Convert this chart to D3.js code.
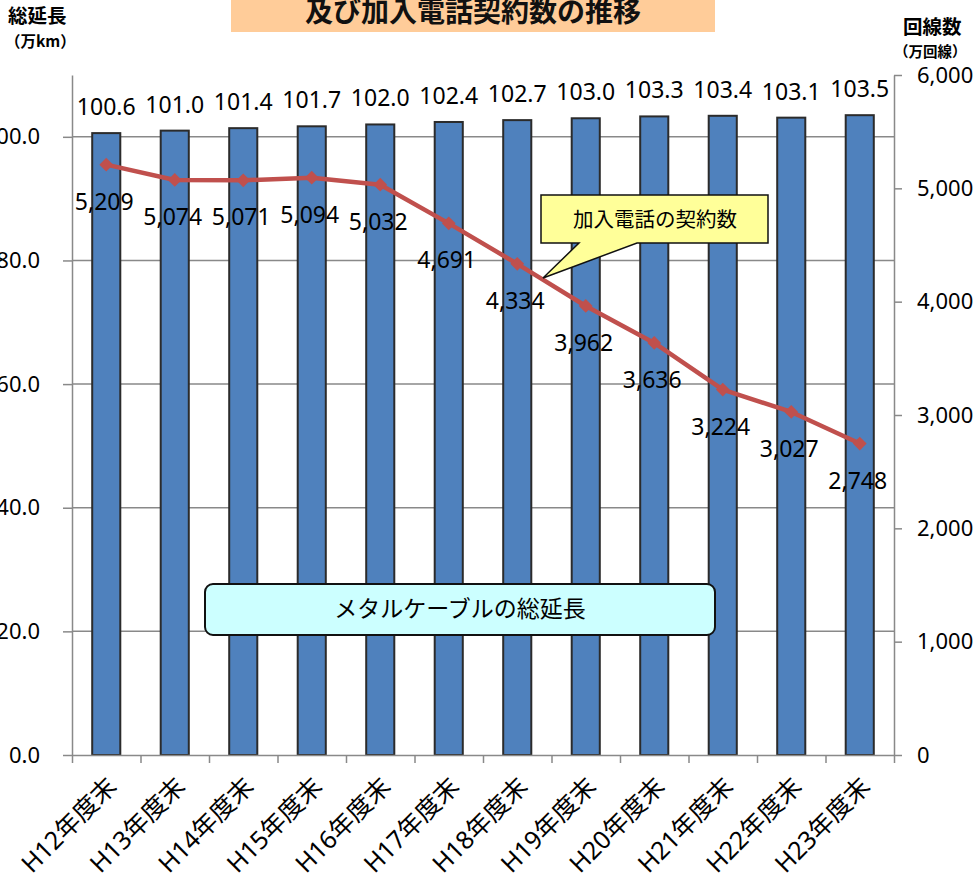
<!DOCTYPE html>
<html>
<head>
<meta charset="utf-8">
<script src="https://cdn.jsdelivr.net/npm/d3@7"></script>
<style>
  html, body { margin: 0; padding: 0; background: #fff; }
  svg { display: block; }
  .num { font-family: "Noto Sans", "DejaVu Sans", sans-serif; }
  .jp { font-family: "Noto Sans CJK JP", sans-serif; }
  .mix { font-family: "Noto Sans", "Noto Sans CJK JP", sans-serif; }
</style>
</head>
<body>
<svg id="chart" width="980" height="878"></svg>
<script>
// Fiscal-year categories
const categories = ["H12年度末", "H13年度末", "H14年度末", "H15年度末", "H16年度末", "H17年度末",
                    "H18年度末", "H19年度末", "H20年度末", "H21年度末", "H22年度末", "H23年度末"];
// Total metal cable length (万km), left axis
const cableLength = [100.6, 101.0, 101.4, 101.7, 102.0, 102.4, 102.7, 103.0, 103.3, 103.4, 103.1, 103.5];
// Subscriber lines (万回線), right axis
const subscriptions = [5209, 5074, 5071, 5094, 5032, 4691, 4334, 3962, 3636, 3224, 3027, 2748];
// Axis ticks
const leftTicks = [0, 20, 40, 60, 80, 100];
const rightTicks = [0, 1000, 2000, 3000, 4000, 5000, 6000];

const svg = d3.select("#chart");
const plot = { left: 72, right: 894, top: 75, bottom: 755 };
const axisColor = "#898989";

const x = d3.scaleBand().domain(categories).range([plot.left, plot.right]).padding(0);
const xIdx = d3.scaleLinear().domain([0, categories.length]).range([plot.left, plot.right]);
const yL = d3.scaleLinear().domain([0, 110]).range([plot.bottom, plot.top]);
const yR = d3.scaleLinear().domain([0, 6000]).range([plot.bottom, plot.top]);
const cx = c => x(c) + x.bandwidth() / 2;
const barW = x.bandwidth() * 0.41;

// Title banner
svg.append("rect").attr("x", 231).attr("y", -5).attr("width", 484).attr("height", 37).attr("fill", "#FFCC99");
svg.append("text").attr("class", "jp").attr("x", 473).attr("y", 22).attr("text-anchor", "middle")
  .attr("font-size", 28).attr("font-weight", "bold").attr("fill", "#111").text("及び加入電話契約数の推移");

// Axis titles
svg.append("text").attr("class", "jp").attr("x", 8).attr("y", 23).attr("font-size", 19.5).attr("font-weight", "bold").text("総延長");
svg.append("text").attr("class", "jp").attr("x", 5).attr("y", 47).attr("font-size", 15.5).attr("font-weight", "bold").text("（万km）");
svg.append("text").attr("class", "jp").attr("x", 903).attr("y", 34).attr("font-size", 19.5).attr("font-weight", "bold").text("回線数");
svg.append("text").attr("class", "jp").attr("x", 894).attr("y", 57).attr("font-size", 14.5).attr("font-weight", "bold").text("（万回線）");

// Horizontal gridlines from the left axis
svg.append("g").selectAll("line").data(leftTicks.filter(d => d > 0)).join("line")
  .attr("x1", plot.left).attr("x2", plot.right)
  .attr("y1", d => yL(d)).attr("y2", d => yL(d))
  .attr("stroke", axisColor).attr("stroke-width", 1.5);

// Bars
svg.append("g").selectAll("rect").data(cableLength).join("rect")
  .attr("x", (d, i) => cx(categories[i]) - barW / 2)
  .attr("y", d => yL(d))
  .attr("width", barW)
  .attr("height", d => yL(0) - yL(d))
  .attr("fill", "#4F81BD").attr("stroke", "#2b2b2b").attr("stroke-width", 2);

// Bar value labels
svg.append("g").selectAll("text").data(cableLength).join("text")
  .attr("class", "num").attr("font-size", 23).attr("text-anchor", "middle")
  .attr("x", (d, i) => cx(categories[i]))
  .attr("y", d => yL(d) - 18)
  .text(d => d3.format(".1f")(d));

function styleAxis(g) {
  g.selectAll("path, line").attr("stroke", axisColor).attr("stroke-width", 1.5);
  g.selectAll("text").attr("class", "num").attr("font-size", 22).attr("fill", "#000");
}

// Left axis
svg.append("g").attr("transform", `translate(${plot.left},0)`)
  .call(d3.axisLeft(yL).tickValues(leftTicks).tickFormat(d3.format(".1f")).tickSize(9).tickSizeOuter(0).tickPadding(23))
  .call(styleAxis);

// Right axis
svg.append("g").attr("transform", `translate(${plot.right},0)`)
  .call(d3.axisRight(yR).tickValues(rightTicks).tickFormat(d3.format(",")).tickSize(8).tickSizeOuter(0).tickPadding(15))
  .call(styleAxis);

// Bottom axis: ticks between categories
svg.append("g").attr("transform", `translate(0,${plot.bottom})`)
  .call(d3.axisBottom(xIdx).ticks(categories.length).tickFormat("").tickSize(8).tickSizeOuter(0))
  .call(styleAxis);

// Rotated category labels
svg.append("g").selectAll("text").data(categories).join("text")
  .attr("class", "mix").attr("font-size", 25).attr("text-anchor", "end")
  .attr("transform", d => `translate(${cx(d) + 12},${plot.bottom + 33}) rotate(-45)`)
  .text(d => d);

// Subscription line
const line = d3.line().x((d, i) => cx(categories[i])).y(d => yR(d));
svg.append("path").datum(subscriptions).attr("d", line)
  .attr("fill", "none").attr("stroke", "#C0504D").attr("stroke-width", 4.5).attr("stroke-linejoin", "round");

svg.append("g").selectAll("path").data(subscriptions).join("path")
  .attr("d", d3.symbol().type(d3.symbolSquare).size(95))
  .attr("transform", (d, i) => `translate(${cx(categories[i])},${yR(d)}) rotate(45)`)
  .attr("fill", "#C0504D");

// Line value labels
svg.append("g").selectAll("text").data(subscriptions).join("text")
  .attr("class", "num").attr("font-size", 23).attr("text-anchor", "middle")
  .attr("x", (d, i) => cx(categories[i]) - 2)
  .attr("y", d => yR(d) + 45)
  .text(d => d3.format(",")(d));

// Callout for the line series
const callout = d3.path();
callout.moveTo(541, 195);
callout.lineTo(768, 195);
callout.lineTo(768, 243);
callout.lineTo(637, 243);
callout.lineTo(543, 278);
callout.lineTo(579, 243);
callout.lineTo(541, 243);
callout.closePath();
svg.append("path").attr("d", callout.toString()).attr("fill", "#FFFF99").attr("stroke", "#111").attr("stroke-width", 1.5);
svg.append("text").attr("class", "jp").attr("x", 655).attr("y", 227).attr("text-anchor", "middle")
  .attr("font-size", 20.5).text("加入電話の契約数");

// Label box for the bar series
svg.append("rect").attr("x", 205).attr("y", 584).attr("width", 510).attr("height", 51).attr("rx", 8)
  .attr("fill", "#CCFFFF").attr("stroke", "#111").attr("stroke-width", 2);
svg.append("text").attr("class", "jp").attr("x", 460).attr("y", 617).attr("text-anchor", "middle")
  .attr("font-size", 23).text("メタルケーブルの総延長");
</script>
</body>
</html>
